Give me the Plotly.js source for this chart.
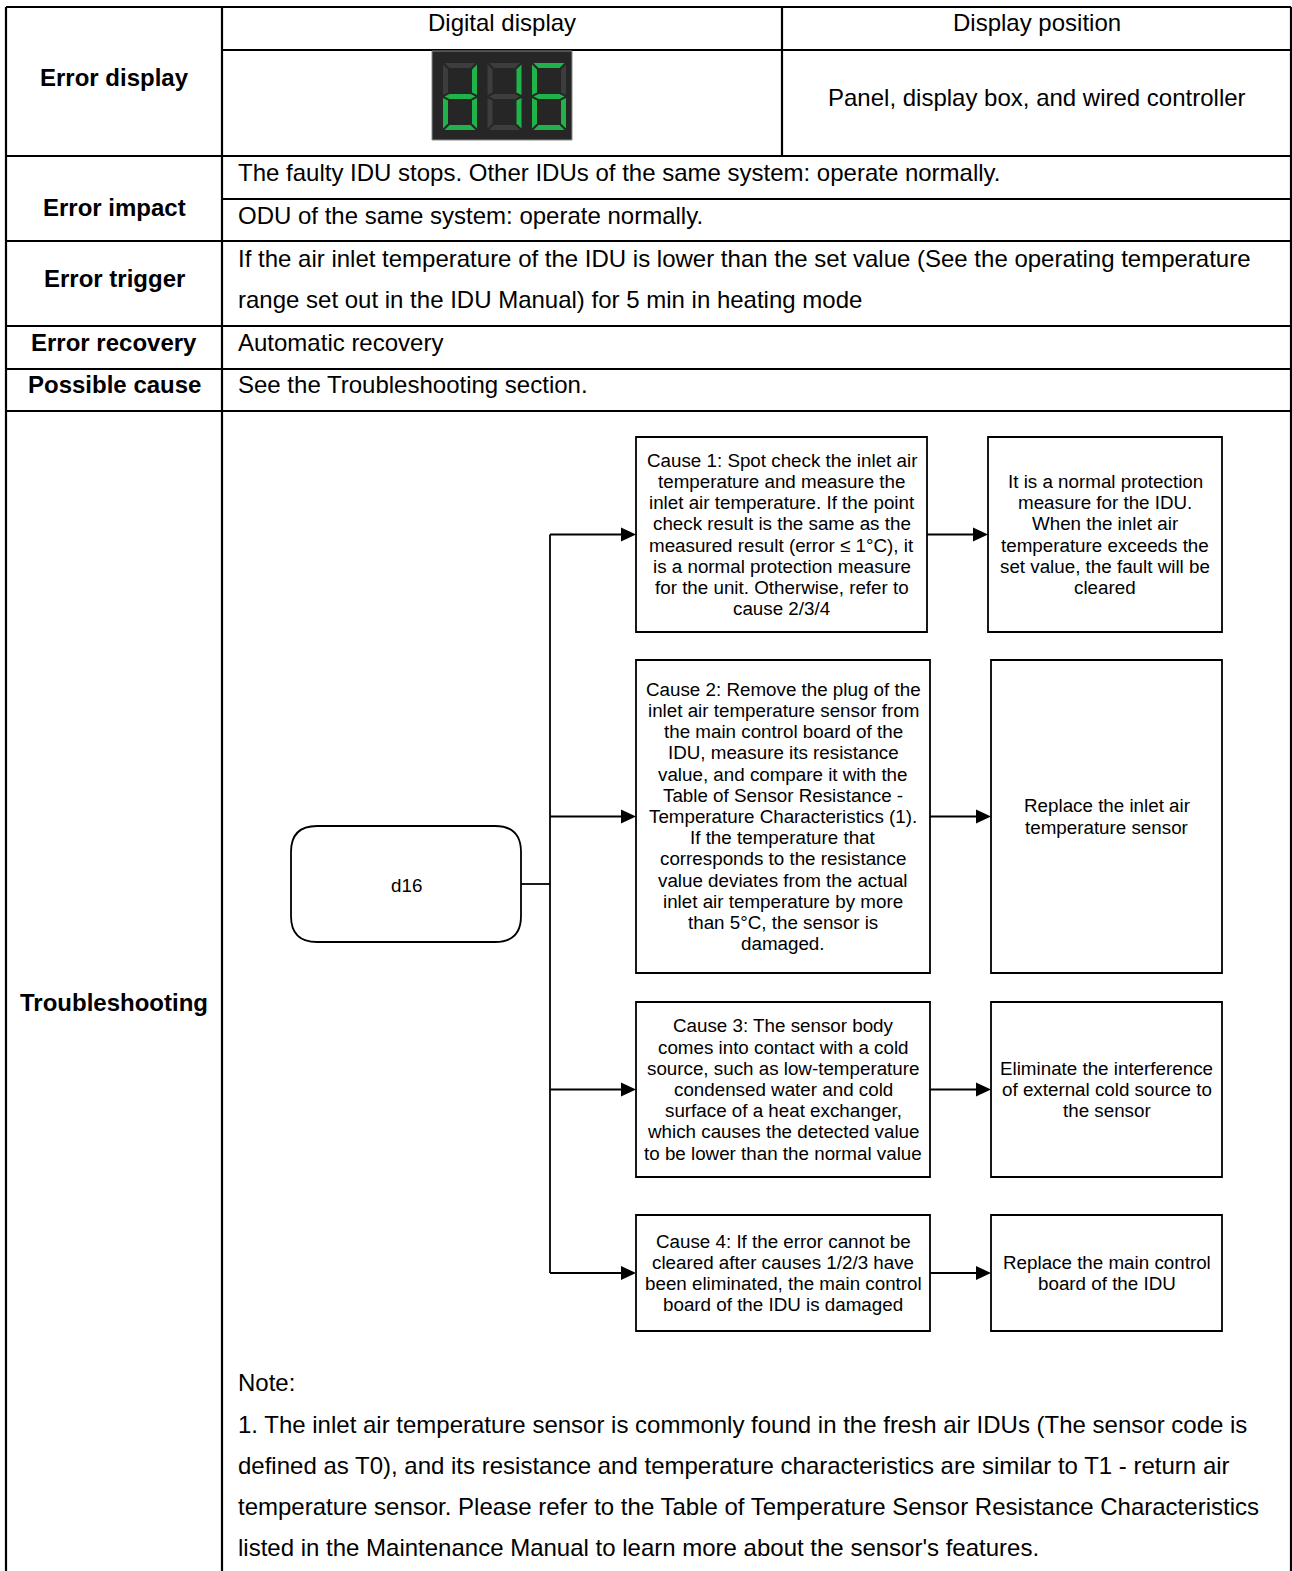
<!DOCTYPE html>
<html>
<head>
<meta charset="utf-8">
<script src="https://cdn.plot.ly/plotly-3.0.1.min.js"></script>
<style>html,body{margin:0;padding:0;background:#fff;}#chart{width:1292px;height:1571px;}</style>
</head>
<body>
<div id="chart"></div>
<script>
// ---------------- DATA ----------------
const rowLabels = ['Error display', 'Error impact', 'Error trigger', 'Error recovery', 'Possible cause', 'Troubleshooting'];
const headerLabels = ['Digital display', 'Display position'];
const displayPosition = 'Panel, display box, and wired controller';
const displayDigits = ['d', '1', '6'];
const impactLines = ['The faulty IDU stops. Other IDUs of the same system: operate normally.',
                     'ODU of the same system: operate normally.'];
const triggerLines = ['If the air inlet temperature of the IDU is lower than the set value (See the operating temperature',
                      'range set out in the IDU Manual) for 5 min in heating mode'];
const recoveryText = 'Automatic recovery';
const possibleCauseText = 'See the Troubleshooting section.';
const errorCode = 'd16';
const causeLines = [
  ['Cause 1: Spot check the inlet air', 'temperature and measure the', 'inlet air temperature. If the point',
   'check result is the same as the', 'measured result (error \u2264 1\u00b0C), it', 'is a normal protection measure',
   'for the unit. Otherwise, refer to', 'cause 2/3/4'],
  ['Cause 2: Remove the plug of the', 'inlet air temperature sensor from', 'the main control board of the',
   'IDU, measure its resistance', 'value, and compare it with the', 'Table of Sensor Resistance -',
   'Temperature Characteristics (1).', 'If the temperature that', 'corresponds to the resistance',
   'value deviates from the actual', 'inlet air temperature by more', 'than 5\u00b0C, the sensor is', 'damaged.'],
  ['Cause 3: The sensor body', 'comes into contact with a cold', 'source, such as low-temperature',
   'condensed water and cold', 'surface of a heat exchanger,', 'which causes the detected value',
   'to be lower than the normal value'],
  ['Cause 4: If the error cannot be', 'cleared after causes 1/2/3 have', 'been eliminated, the main control',
   'board of the IDU is damaged']
];
const actionLines = [
  ['It is a normal protection', 'measure for the IDU.', 'When the inlet air', 'temperature exceeds the',
   'set value, the fault will be', 'cleared'],
  ['Replace the inlet air', 'temperature sensor'],
  ['Eliminate the interference', 'of external cold source to', 'the sensor'],
  ['Replace the main control', 'board of the IDU']
];
const noteLines = ['Note:',
  '1. The inlet air temperature sensor is commonly found in the fresh air IDUs (The sensor code is',
  'defined as T0), and its resistance and temperature characteristics are similar to T1 - return air',
  'temperature sensor. Please refer to the Table of Temperature Sensor Resistance Characteristics',
  'listed in the Maintenance Manual to learn more about the sensor\'s features.'];
// seven-segment glyph table
const segmentMap = { d: ['b','c','d','e','g'], '1': ['b','c'], '6': ['a','c','d','e','f','g'] };

// ---------------- LAYOUT ----------------
const W = 1292, H = 1571;
const FONT = 'Liberation Sans, Arial, sans-serif';
const MAIN = 24, BOX = 18.8;
const shapes = [], annotations = [];

function line(x0, y0, x1, y1, w) {
  shapes.push({type: 'line', xref: 'x', yref: 'y', x0, y0, x1, y1, line: {color: '#000', width: w}});
}
function rect(x0, y0, x1, y1, w, fill, lc) {
  shapes.push({type: 'rect', xref: 'x', yref: 'y', x0, y0, x1, y1,
    line: {color: lc || '#000', width: w}, fillcolor: fill || 'rgba(0,0,0,0)'});
}
function poly(pts, fill) {
  const d = 'M' + pts.map(p => p[0] + ',' + p[1]).join(' L') + ' Z';
  shapes.push({type: 'path', xref: 'x', yref: 'y', path: d, fillcolor: fill, line: {width: 0}});
}
function text(x, y, s, size, opts) {
  opts = opts || {};
  annotations.push({xref: 'x', yref: 'y', x, y, text: s, showarrow: false,
    xanchor: opts.anchor || 'center', yanchor: 'middle', borderpad: 0,
    font: {family: FONT, size, color: '#000', weight: opts.bold ? 'bold' : 'normal'}});
}
function arrow(x0, x1, y) {
  line(x0, y, x1 - 12, y, 1.8);
  poly([[x1, y], [x1 - 15, y - 7], [x1 - 15, y + 7]], '#000');
}

// table grid
const L = 6, C1 = 222, C2 = 782, R = 1291;
const rowY = [7, 50, 156, 199, 241, 326, 369, 411];
line(L, rowY[0], R, rowY[0], 2.2);
line(C1, rowY[1], R, rowY[1], 2.2);
line(L, rowY[2], R, rowY[2], 2.2);
line(C1, rowY[3], R, rowY[3], 2.2);
line(L, rowY[4], R, rowY[4], 2.2);
line(L, rowY[5], R, rowY[5], 2.2);
line(L, rowY[6], R, rowY[6], 2.2);
line(L, rowY[7], R, rowY[7], 2.2);
line(L, rowY[0], L, H + 5, 2.2);
line(C1, rowY[0], C1, H + 5, 2.2);
line(R, rowY[0], R, H + 5, 2.2);
line(C2, rowY[0], C2, rowY[2], 2.2);

// row labels
const labelX = (L + C1) / 2;
const labelY = [77, 207, 278, 342, 384, 1002];
rowLabels.forEach((s, i) => text(labelX, labelY[i], s, MAIN, {bold: true}));

// header & first row
text((C1 + C2) / 2, 22, headerLabels[0], MAIN);
text((C2 + R) / 2, 22, headerLabels[1], MAIN);
text((C2 + R) / 2, 97, displayPosition, MAIN);

// digital display panel
const PX0 = 432, PY0 = 51, PX1 = 572, PY1 = 140;
rect(PX0, PY0, PX1, PY1, 1, '#262626', '#8a8a8a');
const dw = 34, dh = 67, t = 5, g = 1.5;
displayDigits.forEach((ch, k) => {
  const x0 = PX0 + 11 + k * 44.5, y0 = PY0 + 12, ym = y0 + dh / 2;
  const segs = {
    a: [[x0+g, y0], [x0+dw-g, y0], [x0+dw-t-g, y0+t], [x0+t+g, y0+t]],
    d: [[x0+g, y0+dh], [x0+dw-g, y0+dh], [x0+dw-t-g, y0+dh-t], [x0+t+g, y0+dh-t]],
    g: [[x0+g, ym], [x0+t+g, ym-t/2], [x0+dw-t-g, ym-t/2], [x0+dw-g, ym], [x0+dw-t-g, ym+t/2], [x0+t+g, ym+t/2]],
    f: [[x0, y0+g], [x0+t, y0+t+g], [x0+t, ym-t/2-g], [x0, ym-g]],
    b: [[x0+dw, y0+g], [x0+dw-t, y0+t+g], [x0+dw-t, ym-t/2-g], [x0+dw, ym-g]],
    e: [[x0, ym+g], [x0+t, ym+t/2+g], [x0+t, y0+dh-t-g], [x0, y0+dh-g]],
    c: [[x0+dw, ym+g], [x0+dw-t, ym+t/2+g], [x0+dw-t, y0+dh-t-g], [x0+dw, y0+dh-g]]
  };
  const lit = segmentMap[ch] || [];
  Object.keys(segs).forEach(s => poly(segs[s], lit.indexOf(s) >= 0 ? '#1fb34a' : '#3d3d3d'));
});

// text rows
const TX = 237;
text(TX, 172, impactLines[0], MAIN, {anchor: 'left'});
text(TX, 215, impactLines[1], MAIN, {anchor: 'left'});
text(TX, 258, triggerLines[0], MAIN, {anchor: 'left'});
text(TX, 299, triggerLines[1], MAIN, {anchor: 'left'});
text(TX, 342, recoveryText, MAIN, {anchor: 'left'});
text(TX, 384, possibleCauseText, MAIN, {anchor: 'left'});

// flowchart
const SP = 21.2;
function boxText(cx, cy, lines) {
  lines.forEach((s, i) => text(cx, cy + (i - (lines.length - 1) / 2) * SP, s, BOX));
}
// start node
const sx0 = 291, sx1 = 521, sy0 = 826, sy1 = 942, r = 26;
shapes.push({type: 'path', xref: 'x', yref: 'y', line: {color: '#000', width: 1.8},
  path: `M${sx0+r},${sy0} L${sx1-r},${sy0} Q${sx1},${sy0} ${sx1},${sy0+r} L${sx1},${sy1-r} Q${sx1},${sy1} ${sx1-r},${sy1} L${sx0+r},${sy1} Q${sx0},${sy1} ${sx0},${sy1-r} L${sx0},${sy0+r} Q${sx0},${sy0} ${sx0+r},${sy0} Z`});
text((sx0 + sx1) / 2, (sy0 + sy1) / 2 + 1, errorCode, BOX);
const trunkX = 550;
line(sx1, (sy0 + sy1) / 2, trunkX, (sy0 + sy1) / 2, 1.8);

const causeBoxes = [[636, 437, 927, 632], [636, 660, 930, 973], [636, 1002, 930, 1177], [636, 1215, 930, 1331]];
const actionBoxes = [[988, 437, 1222, 632], [991, 660, 1222, 973], [991, 1002, 1222, 1177], [991, 1215, 1222, 1331]];
const midYs = causeBoxes.map(b => (b[1] + b[3]) / 2);
line(trunkX, midYs[0], trunkX, midYs[3], 1.8);
causeBoxes.forEach((b, i) => {
  const a = actionBoxes[i], cy = midYs[i];
  rect(b[0], b[1], b[2], b[3], 1.8);
  rect(a[0], a[1], a[2], a[3], 1.8);
  arrow(trunkX, b[0], cy);
  arrow(b[2], a[0], cy);
  boxText((b[0] + b[2]) / 2, cy, causeLines[i]);
  boxText((a[0] + a[2]) / 2, cy, actionLines[i]);
});

// notes
noteLines.forEach((s, i) => text(TX, 1382 + i * 41 + (i > 0 ? 1 : 0), s, MAIN, {anchor: 'left'}));

const layout = {
  width: W, height: H, margin: {l: 0, r: 0, t: 0, b: 0},
  paper_bgcolor: '#fff', plot_bgcolor: '#fff', showlegend: false,
  xaxis: {range: [0, W], visible: false, fixedrange: true},
  yaxis: {range: [H, 0], visible: false, fixedrange: true},
  shapes, annotations
};
Plotly.newPlot('chart', [{type: 'scatter', x: [], y: [], hoverinfo: 'skip'}], layout,
  {staticPlot: true, displayModeBar: false});
</script>
</body>
</html>
